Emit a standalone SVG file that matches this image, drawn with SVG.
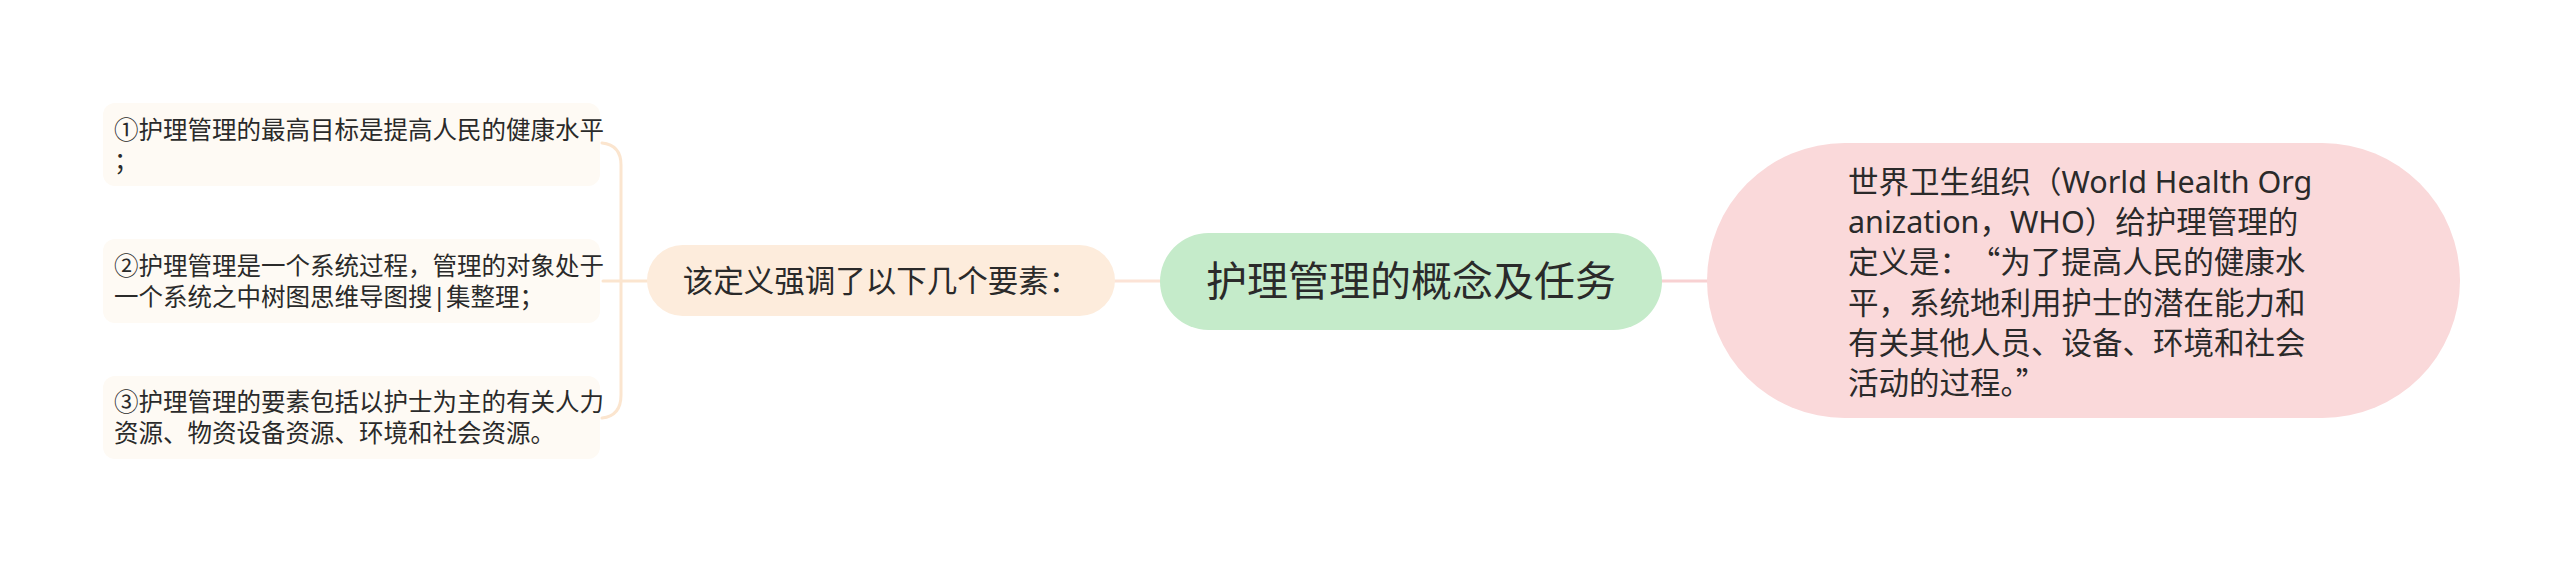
<svg xmlns="http://www.w3.org/2000/svg" width="2560" height="561" viewBox="0 0 2560 561">
<style>
  text { font-family: "Noto Sans", "Noto Sans CJK SC", sans-serif; fill: #2a2a2a; }
  .cjk { font-family: "Noto Sans CJK SC", sans-serif; }
  .leaf rect { fill: #fefaf4; }
  .leaf text { font-size: 24.5px; }
  .mid text { font-size: 30.5px; }
  .conn { fill: none; stroke-width: 3; stroke-linecap: round; }
</style>
<rect width="2560" height="561" fill="#ffffff"/>
<g id="connectors">
  <path class="conn" stroke="#fbe5cf" d="M647,281 H603 M602,143 Q621,145 621,165 V395 Q621,416 602,418"/>
  <path class="conn" stroke="#fce3d6" d="M1115,281 H1160"/>
  <path class="conn" stroke="#f8d1d2" d="M1662,281 H1708"/>
</g>
<g id="root">
  <rect x="1160" y="233" width="502" height="97" rx="48.5" fill="#c5ebca"/>
  <text x="1411" y="296" font-size="41" text-anchor="middle">护理管理的概念及任务</text>
</g>
<g id="node-elements" class="mid">
  <rect x="647" y="245" width="468" height="71" rx="35.5" fill="#fdecdc"/>
  <text x="881" y="292" text-anchor="middle">该定义强调了以下几个要素：</text>
</g>
<g id="node-definition" class="mid">
  <rect x="1707" y="143" width="753" height="275" rx="137.5" fill="#fad9da"/>
  <text x="1848">
    <tspan x="1848" y="193">世界卫生组织（World Health Org</tspan>
    <tspan x="1848" y="233">anization，WHO）给护理管理的</tspan>
    <tspan x="1848" y="273">定义是：<tspan class="cjk" dx="15">“</tspan>为了提高人民的健康水</tspan>
    <tspan x="1848" y="314">平，系统地利用护士的潜在能力和</tspan>
    <tspan x="1848" y="354">有关其他人员、设备、环境和社会</tspan>
    <tspan x="1848" y="394">活动的过程。<tspan class="cjk">”</tspan></tspan>
  </text>
</g>
<g id="leaf-1" class="leaf">
  <rect x="103" y="103" width="497" height="83" rx="12"/>
  <text><tspan x="114" y="139">①护理管理的最高目标是提高人民的健康水平</tspan><tspan x="114" y="170">；</tspan></text>
</g>
<g id="leaf-2" class="leaf">
  <rect x="103" y="239" width="497" height="84" rx="12"/>
  <text><tspan x="114" y="275">②护理管理是一个系统过程，管理的对象处于</tspan><tspan x="114" y="306">一个系统之中树图思维导图搜|集整理；</tspan></text>
</g>
<g id="leaf-3" class="leaf">
  <rect x="103" y="376" width="497" height="83" rx="12"/>
  <text><tspan x="114" y="411">③护理管理的要素包括以护士为主的有关人力</tspan><tspan x="114" y="442">资源、物资设备资源、环境和社会资源。</tspan></text>
</g>
</svg>
